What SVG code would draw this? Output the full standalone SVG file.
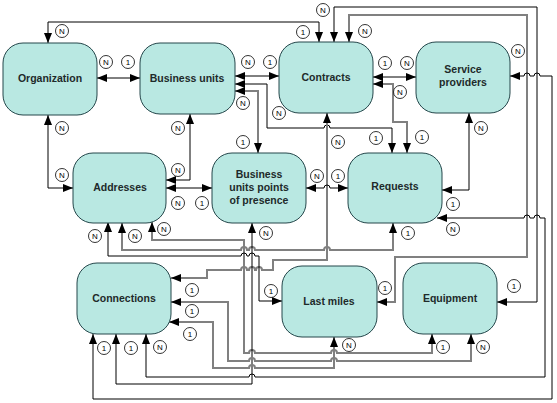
<svg xmlns="http://www.w3.org/2000/svg" width="557" height="403" viewBox="0 0 557 403">
<defs>
<marker id="ar" viewBox="0 0 10 8" refX="10" refY="4" markerWidth="10" markerHeight="8" markerUnits="userSpaceOnUse" orient="auto-start-reverse">
<path d="M0,0 L10,4 L0,8 z" fill="#000"/>
</marker>
<style>
.n rect{fill:#b9e8e2;stroke:#24464a;stroke-width:1}
.n text{font-family:"Liberation Sans",Arial,sans-serif;font-weight:bold;font-size:10.5px;fill:#1e2a2a;text-anchor:middle;dominant-baseline:central}
.k{fill:none;stroke:#000;stroke-width:1;marker-start:url(#ar);marker-end:url(#ar)}
.g{fill:none;stroke:#808080;stroke-width:2;marker-start:url(#ar);marker-end:url(#ar)}
.lb circle{fill:#fff;stroke:#000;stroke-width:0.8}
.lb text{font-family:"Liberation Sans",Arial,sans-serif;font-size:8px;fill:#000;text-anchor:middle;dominant-baseline:central}
</style>
</defs>
<rect width="557" height="403" fill="#fff"/>
<g id="connectors">
<path class="k" d="M97,78 L140,78"/>
<path class="k" d="M235,76 L279,76"/>
<path class="k" d="M373,77 L416,77"/>
<path class="k" d="M48,43 L48,22 L319,22 L319,42"/>
<path class="k" d="M334,42 L334,7 L537,7 L537,302 L497,302"/>
<path class="g" d="M349,42 L349,15 L527,15 L527,257 L395,257 L395,302 L377,302"/>
<path class="k" d="M510,76 L524,76 A3,3 0 0 1 530,76 L534,76 A3,3 0 0 1 540,76 L552,76 L552,399 L93,399 L93,334"/>
<path class="k" d="M235,84 L267,84 L267,128 L324,128 A3,3 0 0 1 330,128 L392,128 L392,153"/>
<path class="g" d="M235,91 L258,91 L258,153"/>
<path class="g" d="M373,84 L393,84 L393,122 L407,122 L407,153"/>
<path class="g" d="M327,113 L327,260 L273,260 L273,270 L262,270 A3,3 0 0 0 256,270 L255,270 A3,3 0 0 0 249,270 L247,270 A3,3 0 0 0 241,270 L207,270 L207,278 L171,278"/>
<path class="k" d="M48,115 L48,188 L73,188"/>
<path class="k" d="M190,114 L190,180 L166,180"/>
<path class="k" d="M166,188 L212,188"/>
<path class="k" d="M306,188 L324,188 A3,3 0 0 1 330,188 L348,188"/>
<path class="k" d="M469,113 L469,190 L442,190"/>
<path class="k" d="M437,218 L524,218 A3,3 0 0 1 530,218 L534,218 A3,3 0 0 1 540,218 L545,218 L545,377 L255,377 A3,3 0 0 0 249,377 L146,377 L146,334"/>
<path class="g" d="M152,222 L152,240 L244,240 L244,353 L249,353 A3,3 0 0 1 255,353 L331,353 A3,3 0 0 1 337,353 L432,353 L432,334"/>
<path class="g" d="M122,223 L122,250 L241,250 A3,3 0 0 1 247,250 L249,250 A3,3 0 0 1 255,250 L324,250 A3,3 0 0 1 330,250 L393,250 L393,223"/>
<path class="k" d="M108,222 L108,256 L241,256 A3,3 0 0 1 247,256 L249,256 A3,3 0 0 1 255,256 L259,256 L259,301 L282,301"/>
<path class="k" d="M252,223 L252,384 L116,384 L116,334"/>
<path class="g" d="M171,302 L228,302 L228,361 L249,361 A3,3 0 0 1 255,361 L331,361 A3,3 0 0 1 337,361 L471,361 L471,334"/>
<path class="g" d="M169,322 L213,322 L213,368 L249,368 A3,3 0 0 1 255,368 L334,368 L334,337"/>
</g>
<g id="node-organization" class="n"><rect x="3" y="43" width="94" height="72" rx="20"/><text x="50" y="78">Organization</text></g>
<g id="node-business-units" class="n"><rect x="140" y="43" width="95" height="71" rx="20"/><text x="187" y="78">Business units</text></g>
<g id="node-contracts" class="n"><rect x="279" y="42" width="94" height="71" rx="20"/><text x="326" y="77">Contracts</text></g>
<g id="node-service-providers" class="n"><rect x="416" y="42" width="94" height="71" rx="20"/><text x="463" y="69">Service</text><text x="463" y="82">providers</text></g>
<g id="node-addresses" class="n"><rect x="73" y="153" width="93" height="70" rx="20"/><text x="120" y="187">Addresses</text></g>
<g id="node-bupp" class="n"><rect x="212" y="153" width="94" height="70" rx="20"/><text x="259" y="174">Business</text><text x="259" y="187">units points</text><text x="259" y="200">of presence</text></g>
<g id="node-requests" class="n"><rect x="348" y="153" width="94" height="70" rx="20"/><text x="395" y="186">Requests</text></g>
<g id="node-connections" class="n"><rect x="77" y="263" width="94" height="71" rx="20"/><text x="124" y="298">Connections</text></g>
<g id="node-last-miles" class="n"><rect x="282" y="266" width="95" height="71" rx="20"/><text x="329" y="301">Last miles</text></g>
<g id="node-equipment" class="n"><rect x="403" y="263" width="94" height="71" rx="20"/><text x="450" y="298">Equipment</text></g>
<g id="labels" class="lb">
<circle cx="62" cy="31" r="6.5"/><text x="62" y="31">N</text>
<circle cx="303" cy="32" r="6.5"/><text x="303" y="32">1</text>
<circle cx="323" cy="10" r="6.5"/><text x="323" y="10">N</text>
<circle cx="365" cy="31" r="6.5"/><text x="365" y="31">N</text>
<circle cx="106" cy="62" r="6.5"/><text x="106" y="62">N</text>
<circle cx="128" cy="62" r="6.5"/><text x="128" y="62">1</text>
<circle cx="248" cy="62" r="6.5"/><text x="248" y="62">N</text>
<circle cx="270" cy="62" r="6.5"/><text x="270" y="62">1</text>
<circle cx="385" cy="63" r="6.5"/><text x="385" y="63">1</text>
<circle cx="407" cy="63" r="6.5"/><text x="407" y="63">N</text>
<circle cx="518" cy="51" r="6.5"/><text x="518" y="51">N</text>
<circle cx="62" cy="128" r="6.5"/><text x="62" y="128">N</text>
<circle cx="178" cy="128" r="6.5"/><text x="178" y="128">N</text>
<circle cx="243" cy="103" r="6.5"/><text x="243" y="103">N</text>
<circle cx="279" cy="113" r="6.5"/><text x="279" y="113">N</text>
<circle cx="243" cy="142" r="6.5"/><text x="243" y="142">1</text>
<circle cx="400" cy="92" r="6.5"/><text x="400" y="92">N</text>
<circle cx="338" cy="142" r="6.5"/><text x="338" y="142">N</text>
<circle cx="376" cy="138" r="6.5"/><text x="376" y="138">1</text>
<circle cx="422" cy="137" r="6.5"/><text x="422" y="137">1</text>
<circle cx="481" cy="128" r="6.5"/><text x="481" y="128">N</text>
<circle cx="62" cy="175" r="6.5"/><text x="62" y="175">N</text>
<circle cx="178" cy="170" r="6.5"/><text x="178" y="170">N</text>
<circle cx="178" cy="203" r="6.5"/><text x="178" y="203">N</text>
<circle cx="202" cy="203" r="6.5"/><text x="202" y="203">1</text>
<circle cx="317" cy="176" r="6.5"/><text x="317" y="176">N</text>
<circle cx="338" cy="176" r="6.5"/><text x="338" y="176">1</text>
<circle cx="453" cy="204" r="6.5"/><text x="453" y="204">1</text>
<circle cx="453" cy="229" r="6.5"/><text x="453" y="229">N</text>
<circle cx="95" cy="236" r="6.5"/><text x="95" y="236">N</text>
<circle cx="135" cy="236" r="6.5"/><text x="135" y="236">N</text>
<circle cx="164" cy="229" r="6.5"/><text x="164" y="229">N</text>
<circle cx="266" cy="233" r="6.5"/><text x="266" y="233">N</text>
<circle cx="408" cy="233" r="6.5"/><text x="408" y="233">1</text>
<circle cx="192" cy="290" r="6.5"/><text x="192" y="290">1</text>
<circle cx="192" cy="311" r="6.5"/><text x="192" y="311">1</text>
<circle cx="190" cy="334" r="6.5"/><text x="190" y="334">1</text>
<circle cx="271" cy="291" r="6.5"/><text x="271" y="291">1</text>
<circle cx="385" cy="288" r="6.5"/><text x="385" y="288">1</text>
<circle cx="514" cy="286" r="6.5"/><text x="514" y="286">1</text>
<circle cx="104" cy="348" r="6.5"/><text x="104" y="348">1</text>
<circle cx="131" cy="348" r="6.5"/><text x="131" y="348">1</text>
<circle cx="160" cy="347" r="6.5"/><text x="160" y="347">N</text>
<circle cx="349" cy="345" r="6.5"/><text x="349" y="345">N</text>
<circle cx="443" cy="347" r="6.5"/><text x="443" y="347">1</text>
<circle cx="483" cy="347" r="6.5"/><text x="483" y="347">N</text>
</g>
</svg>
